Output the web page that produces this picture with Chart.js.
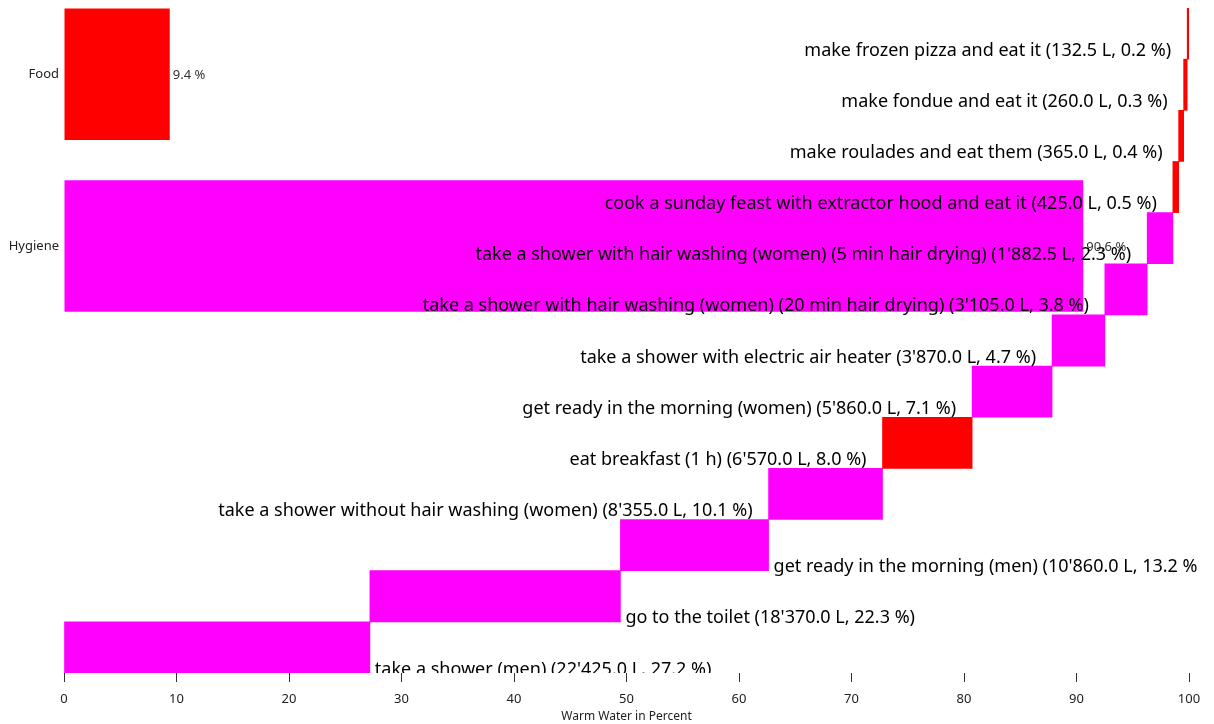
<!DOCTYPE html>
<html>
<head>
<meta charset="utf-8">
<title>Warm Water</title>
<script src="https://cdn.jsdelivr.net/npm/chart.js@4"></script>
<style>
  html, body { margin: 0; padding: 0; background: #fff; }
  #wrap { width: 1214px; height: 724px; }
</style>
</head>
<body>
<div id="wrap"><canvas id="chart"></canvas></div>
<script>
// groups (left bars)
var groups = ['Food', 'Hygiene'];
var groupPercent = [9.4, 90.6];

// activities, from the bottom row to the top row
var activities = [
	'take a shower (men)',
	'go to the toilet',
	'get ready in the morning (men)',
	'take a shower without hair washing (women)',
	'eat breakfast (1 h)',
	'get ready in the morning (women)',
	'take a shower with electric air heater',
	'take a shower with hair washing (women) (20 min hair drying)',
	'take a shower with hair washing (women) (5 min hair drying)',
	'cook a sunday feast with extractor hood and eat it',
	'make roulades and eat them',
	'make fondue and eat it',
	'make frozen pizza and eat it'
];
var liters = [22425, 18370, 10860, 8355, 6570, 5860, 3870, 3105, 1882.5, 425, 365, 260, 132.5];
var percents = [27.2, 22.3, 13.2, 10.1, 8.0, 7.1, 4.7, 3.8, 2.3, 0.5, 0.4, 0.3, 0.2];
var activityGroup = ['Hygiene', 'Hygiene', 'Hygiene', 'Hygiene', 'Food', 'Hygiene', 'Hygiene',
	'Hygiene', 'Hygiene', 'Food', 'Food', 'Food', 'Food'];

var xTicks = [0, 10, 20, 30, 40, 50, 60, 70, 80, 90, 100];

var groupColors = { 'Food': '#FF0000', 'Hygiene': '#FF00FF' };
var fontName = "'Noto Sans', 'Open Sans', sans-serif";

function formatLiters(v){
	var s = v.toFixed(1);
	var parts = s.split('.');
	var ent = parts[0].replace(/\B(?=(\d{3})+(?!\d))/g, "'");
	return ent + '.' + parts[1];
}

// waterfall extents
var total = 0;
for (var i = 0; i < liters.length; i++) total += liters[i];
var spans = [];
var acc = 0;
for (var i = 0; i < liters.length; i++) {
	var start = acc;
	acc += liters[i];
	spans.push([start / total * 100, acc / total * 100]);
}

var actColors = activityGroup.map(function(g){ return groupColors[g]; });
var actLabels = [];
for (var i = 0; i < activities.length; i++) {
	actLabels.push(activities[i] + ' (' + formatLiters(liters[i]) + ' L, ' + percents[i].toFixed(1) + ' %)');
}

var groupData = groups.map(function(g, k){ return { x: [0, groupPercent[k]], y: k }; });

var labelPlugin = {
	id: 'labelPlugin',
	afterDatasetsDraw: function(chart){
		var ctx = chart.ctx;
		var area = chart.chartArea;

		// group percent labels
		var gm = chart.getDatasetMeta(0);
		ctx.save();
		ctx.font = '13px ' + fontName;
		ctx.fillStyle = '#333';
		ctx.textAlign = 'left';
		ctx.textBaseline = 'middle';
		for (var k = 0; k < gm.data.length; k++) {
			var b = gm.data[k];
			ctx.fillText(groupPercent[k].toFixed(1) + ' %', b.x + 3, b.y + 1);
		}
		ctx.restore();

		// activity labels
		var am = chart.getDatasetMeta(1);
		ctx.save();
		ctx.beginPath();
		ctx.rect(0, 0, area.right + 8, area.bottom);
		ctx.clip();
		ctx.font = '18px ' + fontName;
		ctx.fillStyle = '#000';
		ctx.textBaseline = 'middle';
		for (var j = 0; j < am.data.length; j++) {
			var bar = am.data[j];
			var left = Math.min(bar.x, bar.base);
			var right = Math.max(bar.x, bar.base);
			if (j < 3) {
				ctx.textAlign = 'left';
				ctx.fillText(actLabels[j], right + 5, bar.y + 22);
			} else {
				ctx.textAlign = 'right';
				ctx.fillText(actLabels[j], left - 16, bar.y + 17);
			}
		}
		ctx.restore();
	}
};

var config = {
	type: 'bar',
	data: {
		labels: activities,
		datasets: [{
			label: 'groups',
			data: groupData,
			yAxisID: 'y2',
			backgroundColor: groups.map(function(g){ return groupColors[g]; }),
			borderWidth: 0,
			grouped: false,
			barPercentage: 0.765,
			categoryPercentage: 1
		}, {
			label: 'activities',
			data: spans,
			yAxisID: 'y',
			backgroundColor: actColors,
			borderWidth: 0,
			grouped: false,
			barPercentage: 1,
			categoryPercentage: 1
		}]
	},
	options: {
		indexAxis: 'y',
		responsive: true,
		maintainAspectRatio: false,
		animation: false,
		layout: { padding: { left: 0, right: 25, top: 8, bottom: 0 } },
		plugins: {
			legend: { display: false },
			tooltip: { enabled: false }
		},
		scales: {
			x: {
				type: 'linear',
				min: 0,
				max: 100,
				afterBuildTicks: function(scale){
					scale.ticks = xTicks.map(function(v){ return { value: v }; });
				},
				afterFit: function(scale){ scale.height = 51; },
				grid: { drawOnChartArea: false, drawTicks: true, tickLength: 9, color: '#333' },
				border: { display: false },
				ticks: { color: '#222', font: { family: fontName, size: 13 }, padding: 9, maxRotation: 0 },
				title: { display: true, text: 'Warm Water in Percent', color: '#222',
					font: { family: fontName, size: 12 }, padding: { top: 0, bottom: 0 } }
			},
			y: {
				type: 'category',
				reverse: true,
				display: false,
				offset: true
			},
			y2: {
				type: 'linear',
				position: 'left',
				reverse: true,
				offset: false,
				min: -0.385,
				max: 3.485,
				afterBuildTicks: function(scale){
					scale.ticks = groups.map(function(g, k){ return { value: k }; });
				},
				afterFit: function(scale){
					scale.width = 64;
					scale.paddingTop = 0;
					scale.paddingBottom = 0;
				},
				grid: { display: false, drawTicks: false },
				border: { display: false },
				ticks: {
					color: '#222',
					font: { family: fontName, size: 13 },
					padding: 5,
					callback: function(v){ return groups[v] !== undefined ? groups[v] : ''; }
				}
			}
		}
	},
	plugins: [labelPlugin]
};

var canvas = document.getElementById('chart').getContext('2d');
window.grafico = new Chart(canvas, config);
</script>
</body>
</html>
